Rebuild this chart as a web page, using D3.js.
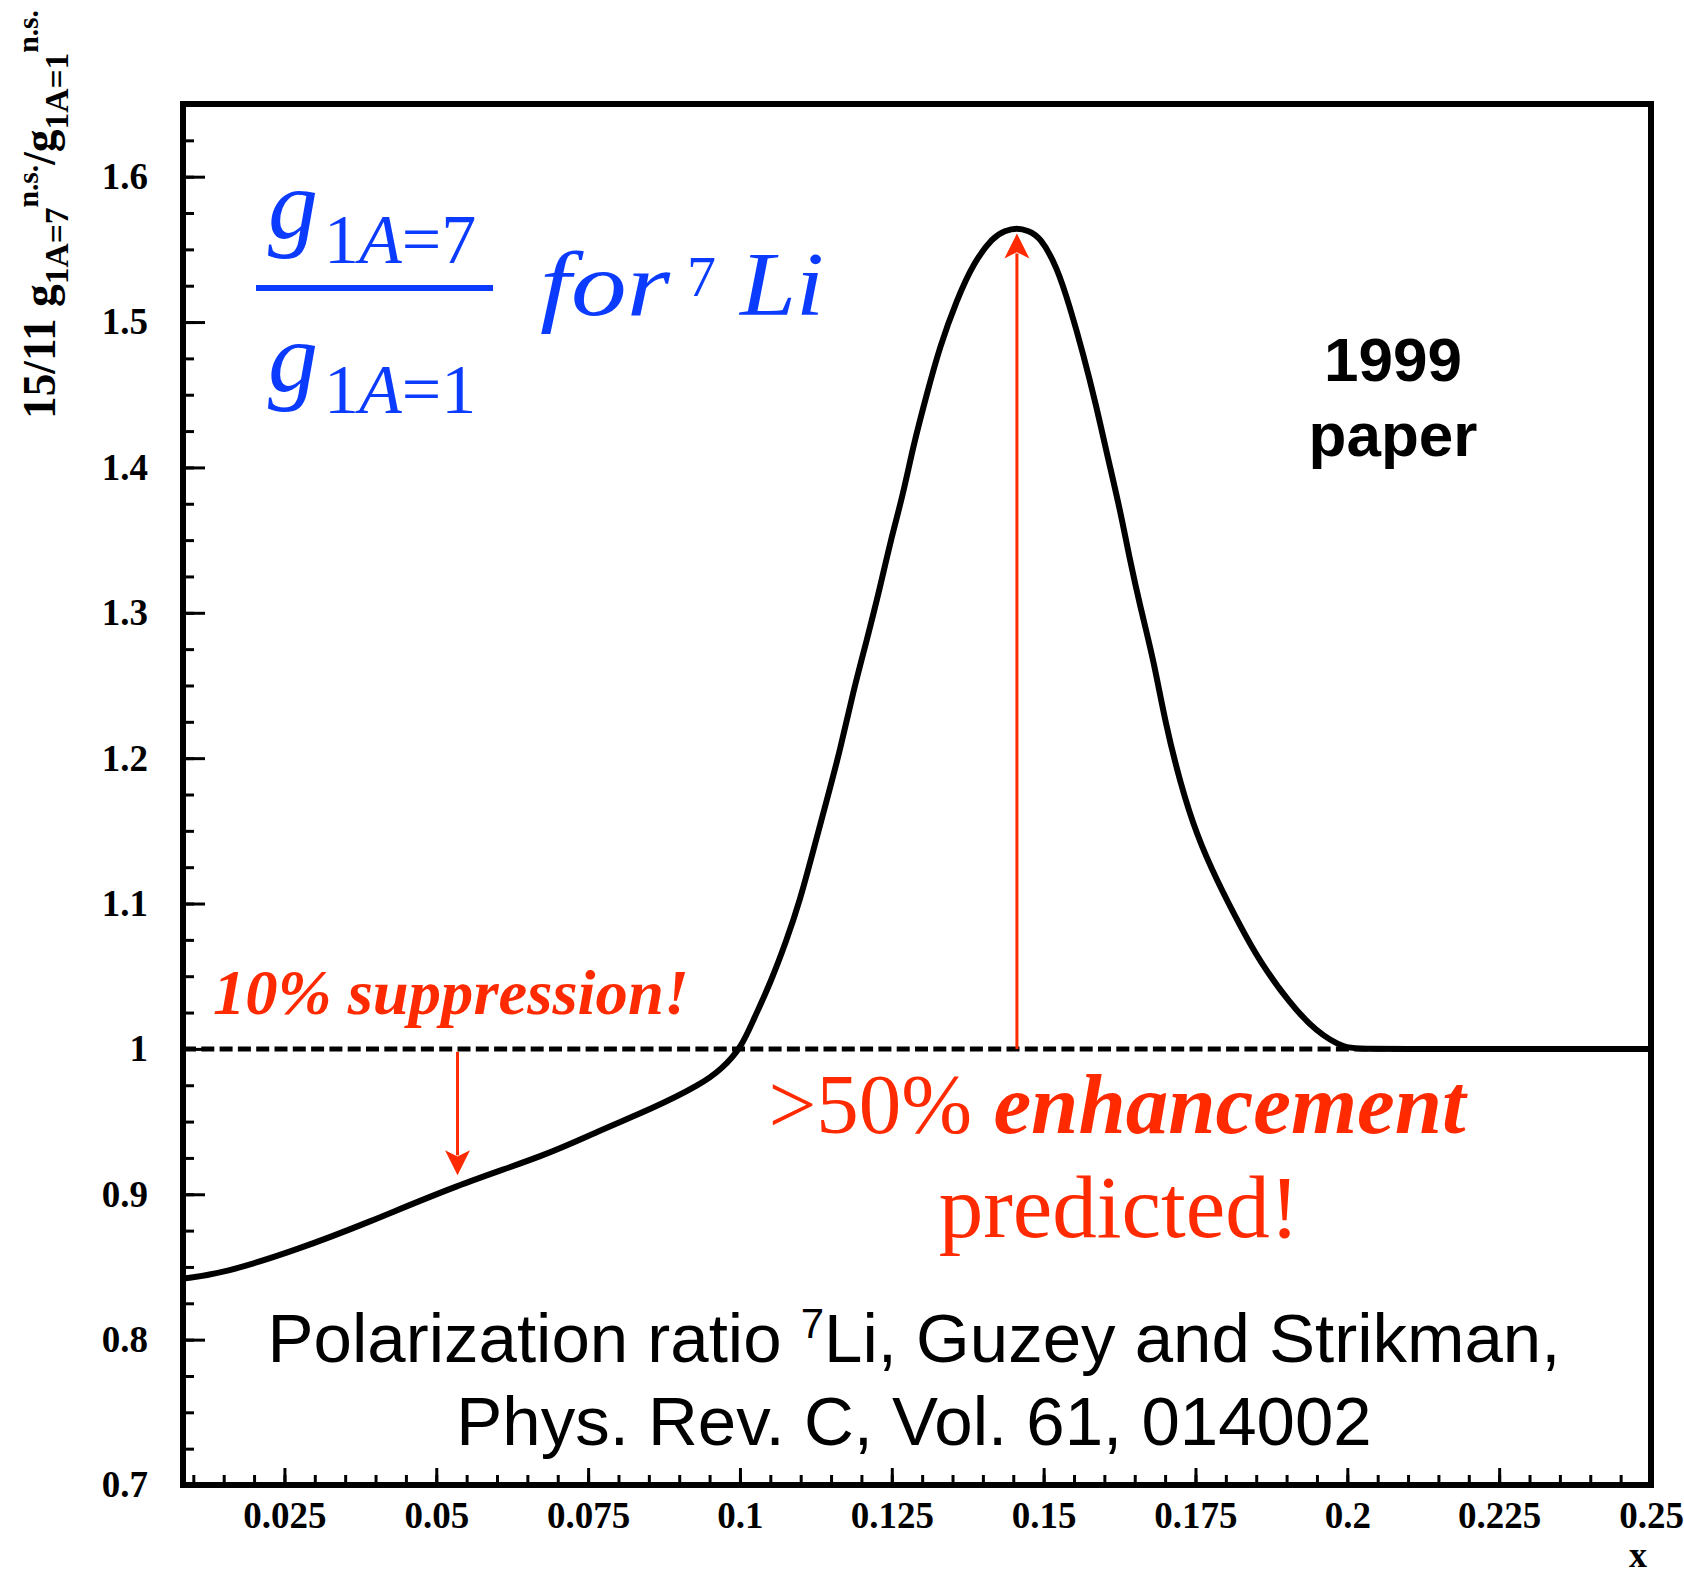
<!DOCTYPE html>
<html><head><meta charset="utf-8">
<script src="https://cdn.jsdelivr.net/npm/d3@7"></script>
<style>body{margin:0;background:#fff} svg{display:block}</style>
</head><body>
<svg id="chart" width="1684" height="1580"></svg>
<script>
// ---------- data ----------
const curveX = [0.0083, 0.0149, 0.0270, 0.0385, 0.0534, 0.0682, 0.0764, 0.0857, 0.0934, 0.0970, 0.1003,
  0.1022, 0.1050, 0.1077, 0.1099, 0.1121, 0.1143, 0.1165, 0.1187, 0.1209, 0.1231, 0.1247, 0.1269, 0.1285,
  0.1308, 0.1329, 0.1357, 0.1384, 0.1417, 0.1436, 0.1456, 0.1475, 0.1494, 0.1522, 0.1543, 0.1565, 0.1587,
  0.1604, 0.1626, 0.1642, 0.1659, 0.1681, 0.1700, 0.1725, 0.1752, 0.1785, 0.1823, 0.1856, 0.1904, 0.1948,
  0.1996, 0.2030, 0.25];
const curveY = [0.842, 0.8456, 0.8617, 0.8800, 0.9064, 0.9270, 0.9430, 0.9591, 0.9752, 0.9860, 1.0015,
  1.0199, 1.0451, 1.0749, 1.1024, 1.1368, 1.1712, 1.2056, 1.2469, 1.2813, 1.3180, 1.3478, 1.3822, 1.4143,
  1.4510, 1.4831, 1.5152, 1.5404, 1.5587, 1.5628, 1.5650, 1.5628, 1.5587, 1.5381, 1.5106, 1.4785, 1.4418,
  1.4097, 1.3707, 1.3363, 1.3042, 1.2675, 1.2250, 1.1827, 1.1470, 1.1160, 1.0850, 1.0600, 1.0320, 1.0120,
  1.0, 1.0, 1.0];
const refX = [0.0083, 0.25];
const refY = [1.0, 1.0];
const xMajorTicks = [0.025, 0.05, 0.075, 0.1, 0.125, 0.15, 0.175, 0.2, 0.225, 0.25];
const xTickLabels = ["0.025", "0.05", "0.075", "0.1", "0.125", "0.15", "0.175", "0.2", "0.225", "0.25"];
const yMajorTicks = [0.7, 0.8, 0.9, 1.0, 1.1, 1.2, 1.3, 1.4, 1.5, 1.6];
const yTickLabels = ["0.7", "0.8", "0.9", "1", "1.1", "1.2", "1.3", "1.4", "1.5", "1.6"];
const xDomain = [0.0083, 0.25];
const yDomain = [0.7, 1.65];
const arrowDown = {x: 0.0535, from: 0.998, to: 0.913};
const arrowUp = {x: 0.1456, from: 1.0, to: 1.561};

// ---------- layout ----------
const L = 183, R = 1651, T = 104, B = 1485;
const RED = "#ff2a00", BLUE = "#0a3bff";
const svg = d3.select("#chart");
svg.append("rect").attr("width", 1684).attr("height", 1580).attr("fill", "#fff");

const x = d3.scaleLinear().domain(xDomain).range([L, R]);
const y = d3.scaleLinear().domain(yDomain).range([B, T]);

const minorX = d3.range(0.01, 0.2501, 0.005).filter(v => v >= xDomain[0]);
const minorY = d3.range(0.7, 1.651, 0.025);

function styleAxis(g) {
  g.select(".domain").remove();
  g.selectAll(".tick line").attr("stroke", "#000").attr("stroke-width", 3);
  g.selectAll(".tick text").attr("fill", "#000")
    .attr("font-family", "'Liberation Serif','Times New Roman',serif")
    .attr("font-weight", "bold").attr("font-size", 37);
}

svg.append("g").attr("transform", `translate(0,${B})`)
  .call(d3.axisBottom(x).tickValues(minorX).tickSize(-10).tickFormat(""))
  .call(styleAxis);
svg.append("g").attr("transform", `translate(0,${B})`)
  .call(d3.axisBottom(x).tickValues(xMajorTicks).tickSize(-17).tickPadding(17)
    .tickFormat((d, i) => xTickLabels[i]))
  .call(styleAxis);
svg.append("g").attr("transform", `translate(${L},0)`)
  .call(d3.axisLeft(y).tickValues(minorY).tickSize(-11).tickFormat(""))
  .call(styleAxis);
svg.append("g").attr("transform", `translate(${L},0)`)
  .call(d3.axisLeft(y).tickValues(yMajorTicks).tickSize(-22).tickPadding(35)
    .tickFormat((d, i) => yTickLabels[i]))
  .call(styleAxis);

// reference dashed line
svg.append("path")
  .datum(refX.map((v, i) => [v, refY[i]]))
  .attr("d", d3.line().x(d => x(d[0])).y(d => y(d[1])))
  .attr("stroke", "#000").attr("stroke-width", 5).attr("stroke-dasharray", "13,5.3")
  .attr("fill", "none");

// curve
svg.append("path")
  .datum(curveX.map((v, i) => [v, curveY[i]]))
  .attr("d", d3.line().x(d => x(d[0])).y(d => y(d[1])).curve(d3.curveBasis))
  .attr("stroke", "#000").attr("stroke-width", 6).attr("fill", "none")
  .attr("stroke-linejoin", "round");

// frame
svg.append("rect").attr("x", L).attr("y", T).attr("width", R - L).attr("height", B - T)
  .attr("fill", "none").attr("stroke", "#000").attr("stroke-width", 6);

// arrows
function arrow(a, headLen, headW) {
  const xs = x(a.x), y1 = y(a.from), y2 = y(a.to);
  const dir = y2 > y1 ? 1 : -1;
  svg.append("line").attr("x1", xs).attr("x2", xs).attr("y1", y1).attr("y2", y2 - dir * headLen * 0.8)
    .attr("stroke", RED).attr("stroke-width", 3);
  svg.append("path")
    .attr("d", `M${xs},${y2} L${xs - headW / 2},${y2 - dir * headLen} L${xs},${y2 - dir * headLen * 0.75} L${xs + headW / 2},${y2 - dir * headLen} Z`)
    .attr("fill", RED);
}
arrow(arrowDown, 25, 25);
arrow(arrowUp, 25, 25);

// y axis title
const serif = "'Liberation Serif','Times New Roman',serif";
const yt = svg.append("text").attr("font-family", serif).attr("font-weight", "bold")
  .attr("font-size", 46).attr("fill", "#000");
yt.append("tspan").text("15/11 g");
yt.append("tspan").attr("font-size", 34).attr("dy", 13).text("1A=7");
yt.append("tspan").attr("font-size", 30).attr("dy", -30).text("n.s.");
yt.append("tspan").attr("dy", 17).text("/g");
yt.append("tspan").attr("font-size", 34).attr("dy", 13).text("1A=1");
yt.append("tspan").attr("font-size", 30).attr("dy", -30).text("n.s.");
const ytLen = yt.node().getComputedTextLength();
yt.attr("transform", `translate(55,419) rotate(-90) scale(${409 / ytLen},1)`);

// x axis title
svg.append("text").attr("x", 1638).attr("y", 1567).attr("text-anchor", "middle")
  .attr("font-family", serif).attr("font-weight", "bold").attr("font-size", 36).text("x");

// blue fraction
function gWithSub(xg, yg, sub, ysub) {
  svg.append("text").attr("x", xg).attr("y", yg).attr("font-family", serif)
    .attr("font-style", "italic").attr("font-size", 100).attr("fill", BLUE).text("g");
  const s = svg.append("text").attr("x", xg + 56).attr("y", ysub).attr("font-family", serif)
    .attr("font-size", 70).attr("fill", BLUE);
  s.append("tspan").text("1");
  s.append("tspan").attr("font-style", "italic").text("A");
  s.append("tspan").text("=" + sub);
}
gWithSub(268, 238, "7", 263);
gWithSub(268, 391, "1", 413);
svg.append("rect").attr("x", 256).attr("y", 285).attr("width", 237).attr("height", 6).attr("fill", BLUE);
svg.append("text").attr("x", 540).attr("y", 315).attr("font-family", serif)
  .attr("font-style", "italic").attr("font-size", 90).attr("fill", BLUE)
  .attr("textLength", 130).attr("lengthAdjust", "spacingAndGlyphs").text("for");
svg.append("text").attr("x", 687).attr("y", 296).attr("font-family", serif)
  .attr("font-size", 58).attr("fill", BLUE).text("7");
svg.append("text").attr("x", 740).attr("y", 315).attr("font-family", serif)
  .attr("font-style", "italic").attr("font-size", 90).attr("fill", BLUE)
  .attr("textLength", 84).attr("lengthAdjust", "spacingAndGlyphs").text("Li");

// 1999 paper
const sans = "'Liberation Sans',Arial,Helvetica,sans-serif";
svg.append("text").attr("x", 1393).attr("y", 381).attr("text-anchor", "middle")
  .attr("font-family", sans).attr("font-weight", "bold").attr("font-size", 62).text("1999");
svg.append("text").attr("x", 1393).attr("y", 456).attr("text-anchor", "middle")
  .attr("font-family", sans).attr("font-weight", "bold").attr("font-size", 62).text("paper");

// red annotations
svg.append("text").attr("x", 213).attr("y", 1014).attr("font-family", serif)
  .attr("font-weight", "bold").attr("font-style", "italic").attr("font-size", 64)
  .attr("fill", RED).attr("textLength", 476).attr("lengthAdjust", "spacingAndGlyphs")
  .text("10% suppression!");
const enh = svg.append("text").attr("x", 1117).attr("y", 1133).attr("text-anchor", "middle")
  .attr("font-family", serif).attr("font-size", 85).attr("fill", RED);
enh.append("tspan").text(">50% ");
enh.append("tspan").attr("font-weight", "bold").attr("font-style", "italic").text("enhancement");
svg.append("text").attr("x", 1119).attr("y", 1237).attr("text-anchor", "middle")
  .attr("font-family", serif).attr("font-size", 89).attr("fill", RED).text("predicted!");

// caption
const cap1 = svg.append("text").attr("x", 914).attr("y", 1362).attr("text-anchor", "middle")
  .attr("font-family", sans).attr("font-size", 69).attr("fill", "#000");
cap1.append("tspan").text("Polarization ratio ");
cap1.append("tspan").attr("font-size", 42).attr("dy", -24).text("7");
cap1.append("tspan").attr("dy", 24).text("Li, Guzey and Strikman,");
svg.append("text").attr("x", 914).attr("y", 1445).attr("text-anchor", "middle")
  .attr("font-family", sans).attr("font-size", 69).attr("fill", "#000")
  .text("Phys. Rev. C, Vol. 61, 014002");
</script>
</body></html>
